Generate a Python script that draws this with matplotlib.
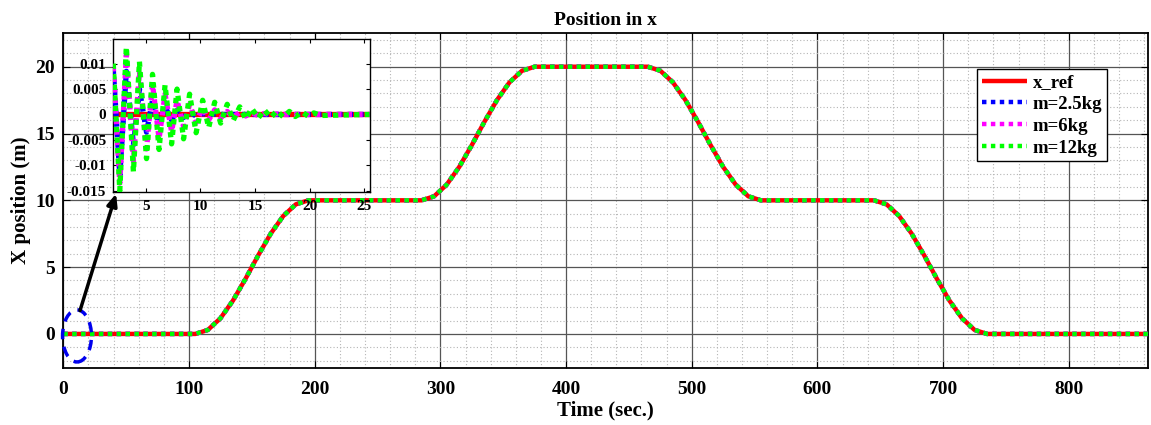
import matplotlib
matplotlib.use("Agg")
import matplotlib.pyplot as plt
from matplotlib.patches import Ellipse
from matplotlib.ticker import MultipleLocator, FuncFormatter

# Reference trajectory (time in s, position in m)
t_ref = [0, 105, 115, 125, 135, 145, 155, 165, 175, 185, 195,
         285, 295, 305, 315, 325, 335, 345, 355, 365, 375,
         465, 475, 485, 495, 505, 515, 525, 535, 545, 555,
         645, 655, 665, 675, 685, 695, 705, 715, 725, 735, 865]
x_ref = [0, 0, 0.30, 1.17, 2.50, 4.13, 5.87, 7.50, 8.83, 9.70, 10.0,
         10.0, 10.30, 11.17, 12.50, 14.13, 15.87, 17.50, 18.83, 19.70, 20.0,
         20.0, 19.70, 18.83, 17.50, 15.87, 14.13, 12.50, 11.17, 10.30, 10.0,
         10.0, 9.70, 8.83, 7.50, 5.87, 4.13, 2.50, 1.17, 0.30, 0, 0]

# At full scale the tracked positions coincide with the reference
x_m25 = list(x_ref)
x_m6 = list(x_ref)
x_m12 = list(x_ref)

# Start-up transient (first seconds), position in m
t_zoom = [2.0, 2.6, 3.2, 3.85, 4.4, 5.05, 5.6, 6.2, 6.75, 7.35, 7.85, 8.45,
          9.0, 9.6, 10.2, 10.75, 11.3, 11.85, 12.45, 13.0, 13.6, 14.15,
          14.7, 15.3, 15.85, 16.45, 17.0, 17.6, 18.15, 18.7, 19.3, 19.85,
          20.4, 21.0, 25.5]
z_m25 = [0.0090, -0.0120, 0.0085, -0.0060, 0.0050, -0.0035, 0.0028, -0.0020,
         0.0015, -0.0011, 0.0008, -0.0006, 0.0004, -0.0003, 0.0002, -0.0001,
         0.0001, 0.0, 0.0, 0.0, 0.0, 0.0, 0.0, 0.0, 0.0, 0.0, 0.0, 0.0,
         0.0, 0.0, 0.0, 0.0, 0.0, 0.0, 0.0]
z_m6 = [0.0095, -0.0135, 0.0118, -0.0092, 0.0085, -0.0068, 0.0060, -0.0048,
        0.0040, -0.0034, 0.0028, -0.0024, 0.0020, -0.0016, 0.0013, -0.0011,
        0.0009, -0.0007, 0.0006, -0.0005, 0.0004, -0.0003, 0.0003, -0.0002,
        0.0002, -0.0001, 0.0001, 0.0, 0.0, 0.0, 0.0, 0.0, 0.0, 0.0, 0.0]
z_m12 = [0.0100, -0.0150, 0.0133, -0.0113, 0.0104, -0.0087, 0.0079, -0.0069,
         0.0058, -0.0058, 0.0050, -0.0048, 0.0040, -0.0036, 0.0028, -0.0026,
         0.0024, -0.0017, 0.0020, -0.0012, 0.0015, -0.0009, 0.0012, -0.0007,
         0.0009, -0.0006, 0.0007, -0.0005, 0.0006, -0.0004, 0.0005, -0.0003,
         0.0003, -0.0002, 0.0]
z_ref = [0.0] * len(t_zoom)

labels = ["x_ref", "m=2.5kg", "m=6kg", "m=12kg"]
colors = ["#ff0000", "#0000ff", "#ff00ff", "#00ff00"]

plt.rcParams["font.family"] = ["Liberation Serif", "DejaVu Serif"]
plt.rcParams["font.weight"] = "bold"

fig = plt.figure(figsize=(11.51, 4.25), dpi=100)
ax = fig.add_axes([0.0550, 0.1341, 0.9424, 0.7875])

dot = (0, (1, 1))
lw = 3.2
ax.plot(t_ref, x_ref, color=colors[0], lw=lw, solid_capstyle="butt", label=labels[0], zorder=3)
ax.plot(t_ref, x_m25, color=colors[1], lw=lw, ls=dot, label=labels[1], zorder=4)
ax.plot(t_ref, x_m6, color=colors[2], lw=lw, ls=dot, label=labels[2], zorder=5)
ax.plot(t_ref, x_m12, color=colors[3], lw=lw, ls=dot, label=labels[3], zorder=6)

ax.set_xlim(0, 863)
ax.set_ylim(-2.55, 22.5)
ax.xaxis.set_major_locator(MultipleLocator(100))
ax.xaxis.set_minor_locator(MultipleLocator(20))
ax.yaxis.set_major_locator(MultipleLocator(5))
ax.yaxis.set_minor_locator(MultipleLocator(1))
ax.grid(True, which="major", color="#555555", lw=0.9, ls="-")
ax.grid(True, which="minor", color="#b5b5b5", lw=0.8, ls=(0, (1, 2)))
ax.set_axisbelow(True)
ax.tick_params(which="both", direction="in", top=True, right=True, labelsize=14)
ax.tick_params(axis="x", which="major", pad=9, length=5)
ax.tick_params(axis="y", which="major", pad=6, length=5)
ax.tick_params(which="minor", length=0)
for s in ax.spines.values():
    s.set_linewidth(1.3)

ax.set_title("Position in x", fontsize=14, fontweight="bold", pad=6)
ax.set_xlabel("Time (sec.)", fontsize=15, fontweight="bold", labelpad=2)
ax.set_ylabel("X position (m)", fontsize=15, fontweight="bold", labelpad=3)

leg = ax.legend(loc="upper right", bbox_to_anchor=(0.962, 0.8925), borderaxespad=0,
                fontsize=13.5, frameon=True, fancybox=False, framealpha=1,
                edgecolor="black", handlelength=2.4, handletextpad=0.3,
                labelspacing=0.25, borderpad=0.25)
leg.get_frame().set_linewidth(1.0)
leg.set_zorder(20)

# Highlight of the start-up region and pointer to the zoomed view
ell = Ellipse((10.9, -0.15), 23, 3.9, fill=False, edgecolor="#0000ee",
              lw=2.5, ls=(0, (3, 2.2)), zorder=8, clip_on=False)
ax.add_patch(ell)
ax.annotate("", xy=(42.0, 10.5), xytext=(13.3, 1.75),
            arrowprops=dict(arrowstyle="-|>,head_length=0.7,head_width=0.3",
                            color="black", lw=2.5, shrinkA=0, shrinkB=0),
            zorder=9)

# Inset: zoom on the start-up transient
lwi = 3.8
axi = fig.add_axes([0.0984, 0.5490, 0.2231, 0.3586])
axi.set_facecolor("white")
axi.plot(t_zoom, z_ref, color=colors[0], lw=lwi, solid_capstyle="butt", zorder=3)
axi.plot(t_zoom, z_m25, color=colors[1], lw=lwi, ls=dot, zorder=4)
axi.plot(t_zoom, z_m6, color=colors[2], lw=lwi, ls=dot, zorder=5)
axi.plot(t_zoom, z_m12, color=colors[3], lw=lwi, ls=dot, zorder=6)
axi.set_xlim(2.0, 25.55)
axi.set_ylim(-0.0152, 0.0148)
axi.set_xticks([5, 10, 15, 20, 25])
axi.set_yticks([-0.015, -0.01, -0.005, 0, 0.005, 0.01])
axi.yaxis.set_major_formatter(FuncFormatter(lambda v, p: "%g" % round(v, 4)))
axi.tick_params(direction="in", top=True, right=True, labelsize=11, length=3)
axi.tick_params(axis="x", pad=6)
axi.tick_params(axis="y", pad=5)
for s in axi.spines.values():
    s.set_linewidth(1.0)

fig.savefig("out.png", dpi=100)
